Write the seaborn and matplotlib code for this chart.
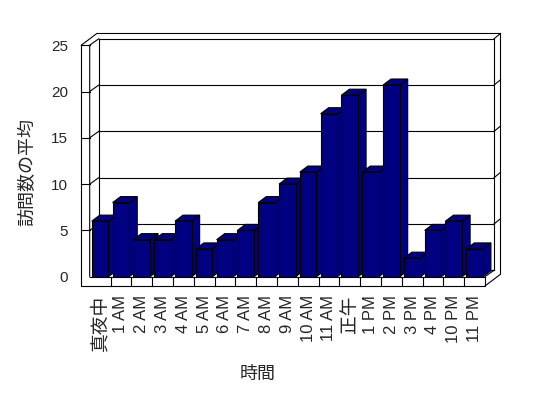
import numpy as np
import pandas as pd
import matplotlib
matplotlib.use("Agg")
import matplotlib.pyplot as plt
import seaborn as sns
from matplotlib.patches import Polygon
from matplotlib.lines import Line2D
from matplotlib.transforms import IdentityTransform

# ---- data ----
hours = ['真夜中', '1 AM', '2 AM', '3 AM', '4 AM', '5 AM', '6 AM', '7 AM', '8 AM',
         '9 AM', '10 AM', '11 AM', '正午', '1 PM', '2 PM', '3 PM', '4 PM', '10 PM', '11 PM']
visits = [6, 8, 4, 4, 6, 3, 4, 5, 8, 10, 11.3, 17.6, 19.6, 11.3, 20.7, 2, 5, 6, 3]
y_ticks = [0, 5, 10, 15, 20, 25]
x_title = '時間'
y_title = '訪問数の平均'

sns.set_style("white")
plt.rcParams['font.family'] = ['Liberation Sans', 'Noto Sans CJK JP']

W, H, DPI = 548, 398, 100
fig = plt.figure(figsize=(W / DPI, H / DPI), dpi=DPI)
fig.patch.set_facecolor('white')
L, R, B, T = 89.7, 485.0, 276.7, 45.2   # front plane in pixels (top-down y)
ax = fig.add_axes([L / W, 1 - B / H, (R - L) / W, (B - T) / H])
ax.set_facecolor('none')

NAVY = '#000080'
df = pd.DataFrame({x_title: hours, y_title: visits})
sns.barplot(data=df, x=x_title, y=y_title, color=NAVY, saturation=1, width=0.8,
            edgecolor='black', linewidth=0.8, ax=ax, zorder=3, errorbar=None)
ax.set_xlim(-0.5, len(hours) - 0.5)
ax.set_ylim(0, 25)
ax.set_autoscale_on(False)
for s in ax.spines.values():
    s.set_visible(False)

# depth offsets in pixels
DEPTH = {0: (0.0, 0.0), 1: (9.0, 6.4), 2: (15.5, 11.7)}
BD = (8.0, 6.0)
LW = 0.8
WALL = 8.4   # left wall thickness (px)


def P(x, y, d=0, ox=0.0, oy=0.0):
    X, Y = ax.transData.transform((x, y))
    dx, dy = DEPTH[d]
    return (X + dx + ox, Y + dy + oy)


def seg(*pts, z=1):
    xs = [p[0] for p in pts]
    ys = [p[1] for p in pts]
    ax.add_line(Line2D(xs, ys, transform=IdentityTransform(), color='black',
                       lw=LW, clip_on=False, zorder=z, solid_capstyle='projecting'))


x0, x1 = -0.5, len(hours) - 0.5
ymax = 25

# back wall (front face) and gridlines
for yv in y_ticks[1:-1]:
    seg(P(x0, yv, 1), P(x1, yv, 1))
    seg(P(x0, yv, 0), P(x0, yv, 1))             # left wall diagonal
    seg(P(x0, yv, 0, -WALL), P(x0, yv, 0), z=4)  # tick on left wall
    seg(P(x1, yv, 1), P(x1, yv, 2))             # right edge thickness
seg(P(x0, 0, 1), P(x0, ymax, 1))                # back wall left edge
seg(P(x0, ymax, 1), P(x1, ymax, 1))             # back wall top (front face)
seg(P(x1, 0, 1), P(x1, ymax, 1))                # back wall right edge
seg(P(x0, 0, 1), P(x1, 0, 1))                   # floor back edge
# back face of back wall
seg(P(x0, ymax, 0, -WALL), P(x0, ymax, 2, -WALL), P(x1, ymax, 2), P(x1, -1, 2), P(x1, -1, 0), z=4)
seg(P(x1, ymax, 1), P(x1, ymax, 2))
seg(P(x1, 0, 0), P(x1, 0, 1), z=4)
# left wall
seg(P(x0, 0, 0), P(x0, ymax, 0), P(x0, ymax, 1), z=4)
seg(P(x0, ymax, 0, -WALL), P(x0, ymax, 0), z=4)
seg(P(x0, ymax, 0, -WALL), P(x0, -1, 0, -WALL), P(x1, -1, 0), P(x1, 0, 0), P(x0, 0, 0), z=4)
# floor ticks
for k in range(len(hours) - 1):
    seg(P(k + 0.5, 0, 0), P(k + 0.5, -1, 0), z=4)

# 3D sides and tops of bars
for p in ax.patches:
    xl, yb = p.get_x(), p.get_y()
    xr, yt = xl + p.get_width(), yb + p.get_height()
    (Xl, Yb), (Xr, Yt) = ax.transData.transform([(xl, yb), (xr, yt)])
    side = [(Xr, Yb), (Xr, Yt), (Xr + BD[0], Yt + BD[1]), (Xr + BD[0], Yb + BD[1])]
    top = [(Xl, Yt), (Xr, Yt), (Xr + BD[0], Yt + BD[1]), (Xl + BD[0], Yt + BD[1])]
    for poly in (side, top):
        ax.add_patch(Polygon(poly, closed=True, facecolor=NAVY, edgecolor='black',
                             lw=LW, transform=IdentityTransform(), clip_on=False, zorder=2))

# ticks and labels
ax.set_yticks(y_ticks)
ax.set_yticklabels([str(v) for v in y_ticks])
ax.tick_params(axis='y', length=0, pad=15.4, labelsize=11)
ax.set_xticks(range(len(hours)))
ax.set_xticklabels(hours, rotation=90, ha='center', va='top')
ax.tick_params(axis='x', length=0, pad=13.2, labelsize=12)
for lab in ax.get_xticklabels():
    if any(ord(c) > 0x3000 for c in lab.get_text()):
        lab.set_fontsize(13.5)
        lab.set_fontfamily(['Noto Sans CJK JP'])

ax.set_xlabel(x_title, fontsize=13, fontfamily=['Noto Sans CJK JP'])
ax.set_ylabel(y_title, fontsize=13, fontfamily=['Noto Sans CJK JP'])
ax.xaxis.set_label_coords((258 - L) / (R - L), (B - 374) / (B - T))
ax.xaxis.label.set_va('center')
ax.yaxis.set_label_coords((27.5 - L) / (R - L), (B - 172) / (B - T))
ax.yaxis.label.set_va('center')
ax.grid(False)

fig.savefig('out.png', dpi=DPI, facecolor='white')
